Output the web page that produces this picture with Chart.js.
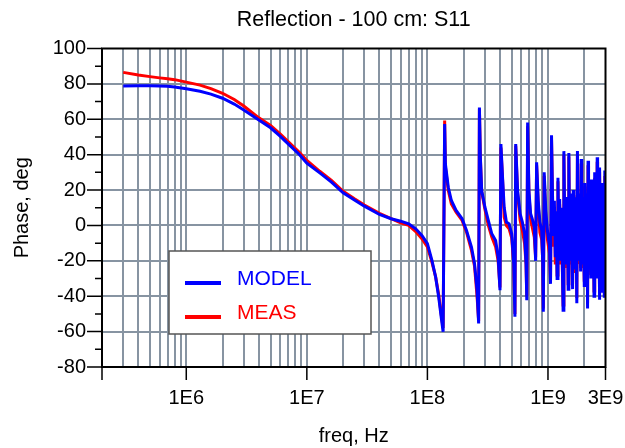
<!DOCTYPE html>
<html>
<head>
<meta charset="utf-8">
<script src="https://cdn.jsdelivr.net/npm/chart.js@4.4.1/dist/chart.umd.min.js"></script>
<style>
  html, body { margin: 0; padding: 0; background: #fff; }
  canvas { display: block; }
</style>
</head>
<body>
<canvas id="chart" width="625" height="448"></canvas>
<script>
// frequency points (Hz) and phase values (deg)
const freq = [
    3e5, 4e5, 5e5, 6e5, 7e5, 8e5, 1e6, 1.3e6, 1.6e6, 2e6, 2.5e6, 3e6, 4e6, 5e6, 6e6, 7e6, 8.7e6, 1e7,
    1.28e7, 1.6e7, 2e7, 2.5e7, 3e7, 4e7, 5e7, 6e7, 7e7, 8e7, 9e7, 1e8, 1.09e8, 1.17e8, 1.24e8, 1.3e8, 1.35e8,
    1.39e8, 1.41e8, 1.49e8, 1.58e8, 1.73e8, 1.94e8, 2.11e8, 2.32e8, 2.46e8, 2.58e8, 2.66e8,
    2.70e8, 2.75e8, 2.82e8, 3.0e8, 3.2e8, 3.42e8, 3.68e8, 3.86e8, 4.0e8,
    4.07e8, 4.2e8, 4.33e8, 4.52e8, 4.76e8, 5.0e8, 5.2e8, 5.32e8,
    5.4e8, 5.6e8, 5.87e8, 6.13e8, 6.4e8, 6.58e8, 6.67e8,
    6.78e8, 6.95e8, 7.18e8, 7.4e8, 7.7e8, 7.9e8,
    8.05e8, 8.3e8, 8.57e8, 8.87e8, 9.05e8, 9.15e8,
    9.3e8, 9.6e8, 9.9e8, 1.03e9, 1.05e9,
    1.07e9, 1.09e9, 1.11e9, 1.13e9, 1.15e9, 1.17e9, 1.19e9,
    1.21e9, 1.23e9, 1.25e9, 1.27e9, 1.29e9, 1.31e9, 1.335e9,
    1.355e9, 1.375e9, 1.395e9, 1.415e9, 1.435e9, 1.45e9, 1.47e9,
    1.49e9, 1.51e9, 1.53e9, 1.55e9, 1.57e9, 1.585e9, 1.6e9,
    1.62e9, 1.64e9, 1.66e9, 1.68e9, 1.7e9, 1.715e9, 1.735e9,
    1.755e9, 1.775e9, 1.795e9, 1.815e9, 1.835e9, 1.85e9, 1.865e9,
    1.885e9, 1.905e9, 1.925e9, 1.945e9, 1.96e9, 1.98e9, 2.0e9,
    2.02e9, 2.04e9, 2.06e9, 2.08e9, 2.095e9, 2.115e9, 2.13e9,
    2.15e9, 2.17e9, 2.19e9, 2.21e9, 2.23e9, 2.25e9, 2.27e9,
    2.29e9, 2.31e9, 2.33e9, 2.35e9, 2.37e9, 2.39e9, 2.41e9,
    2.43e9, 2.45e9, 2.47e9, 2.49e9, 2.51e9, 2.525e9, 2.54e9,
    2.56e9, 2.58e9, 2.6e9, 2.62e9, 2.64e9, 2.655e9, 2.67e9,
    2.69e9, 2.71e9, 2.73e9, 2.75e9, 2.77e9, 2.785e9, 2.8e9,
    2.82e9, 2.84e9, 2.86e9, 2.88e9, 2.9e9, 2.915e9, 2.93e9,
    2.95e9, 2.97e9, 2.99e9, 3.0e9
];
const model = [
    78.8, 79.0, 79.0, 78.8, 78.6, 78.2, 77.2, 75.8, 74.2, 71.9, 68.6, 65.3, 59.6, 55.2, 50.5, 46.1, 40.0, 35.2,
    29.7, 24.5, 18.4, 14.2, 10.9, 6.2, 3.8, 2.4, 0.9, -1.9, -5.6, -10.3, -19.7, -29.1, -40.4, -51.6, -60.1,
    57.3, 34.7, 21.6, 14.1, 8.5, 3.8, -2.8, -12.2, -21.6, -36.6, -55.4,
    66.7, 38.5, 19.7, 10.3, 2.8, -4.7, -8.5, -17.8, -36.6,
    46.0, 27.2, 10.3, 1.9, 0.9, -4.7, -21.6, -51.6,
    46.0, 19.7, 6.6, 1.9, -4.7, -21.6, -42.3,
    58.2, 19.7, 6.6, 3.8, -0.9, -20.0,
    35.7, 14.1, 1.9, -2.8, -21.6, -48.8,
    30.0, 8.0, -3.0, -12.0, -33.0,
    51.0, 18.0, -6.0, 14.0, -18.0, 8.0, -30.0,
    27.0, -10.0, 15.0, -20.0, 10.0, -14.0, -47.9,
    42.0, 4.0, -18.0, 16.0, -22.0, 8.0, -36.0,
    41.0, -4.0, 18.0, -20.0, 12.0, -16.0, -36.0,
    20.0, -12.0, 14.0, -24.0, 16.0, -10.0, -44.0,
    42.0, 0.0, -20.0, 18.0, -16.0, 10.0, -26.0,
    37.6, -8.0, 16.0, -22.0, 12.0, -12.0, -34.0,
    24.0, -14.0, 18.0, -24.0, 10.0, -8.0, -47.0,
    36.6, -6.0, 20.0, -20.0, 14.0, -16.0, -30.0,
    26.0, -12.0, 16.0, -24.0, 12.0, -10.0, -40.0,
    30.0, -4.0, 18.0, -22.0, 10.0, -14.0, -30.0,
    38.6, -10.0, 20.0, -20.0, 12.0, -12.0, -42.0,
    32.7, -8.0, 18.0, -24.0, 14.0, -10.0, -38.0,
    24.0, -14.0, 16.0, -22.0, 10.0, -12.0, -40.0,
    31.0, -6.0, 14.0, -10.0
];
const meas = [
    86.5, 85.0, 84.1, 83.4, 82.9, 82.4, 81.0, 79.3, 77.3, 74.7, 71.2, 67.5, 60.8, 56.5, 51.8, 47.4, 41.2, 36.7,
    30.6, 25.4, 19.3, 14.9, 11.5, 6.8, 3.8, 1.5, 0.0, -3.5, -7.5, -12.2, -20.7, -29.1, -39.0, -50.0, -58.0,
    59.3, 33.0, 19.7, 12.2, 7.5, 2.8, -3.8, -14.1, -23.0, -40.0, -54.0,
    66.0, 38.0, 19.0, 9.0, 0.0, -6.6, -12.2, -20.0, -35.0,
    44.0, 26.0, 4.7, 0.0, -1.9, -7.0, -22.0, -50.0,
    45.0, 18.0, 3.0, -2.8, -10.3, -22.0, -40.0,
    56.0, 18.0, 4.0, -1.0, -6.6, -18.0,
    34.0, 12.0, -4.0, -8.0, -20.0, -47.0,
    28.0, 4.0, -8.0, -16.0, -31.0,
    49.0, 14.0, -12.0, 10.0, -22.0, 4.0, -28.0,
    25.0, -14.0, 12.0, -22.0, 6.0, -18.0, -45.0,
    40.0, 0.0, -22.0, 12.0, -24.0, 4.0, -33.0,
    39.0, -8.0, 14.0, -22.0, 8.0, -20.0, -33.0,
    17.0, -16.0, 10.0, -26.0, 12.0, -14.0, -41.0,
    40.0, -4.0, -22.0, 14.0, -20.0, 6.0, -24.0,
    35.0, -12.0, 12.0, -24.0, 8.0, -16.0, -31.0,
    22.0, -18.0, 14.0, -26.0, 6.0, -12.0, -44.0,
    34.0, -10.0, 16.0, -22.0, 10.0, -20.0, -28.0,
    24.0, -16.0, 12.0, -26.0, 8.0, -14.0, -37.0,
    27.0, -8.0, 14.0, -24.0, 6.0, -18.0, -28.0,
    36.0, -14.0, 16.0, -22.0, 8.0, -16.0, -39.0,
    30.0, -12.0, 14.0, -26.0, 10.0, -14.0, -35.0,
    22.0, -18.0, 12.0, -24.0, 6.0, -16.0, -37.0,
    28.0, -10.0, 10.0, -14.0
];

const xMin = 2e5;
const xMax = 3e9;
const xTickValues = [1e6, 1e7, 1e8, 1e9, 3e9];
const xTickLabels = ['1E6', '1E7', '1E8', '1E9', '3E9'];
const yMin = -80;
const yMax = 100;
const yLabelStep = 20;

const gridColor = '#8794a2';
const fontFamily = '"Liberation Sans", Arial, sans-serif';

// gridline positions: 1..9 x each decade inside the axis range
const xGridValues = [];
for (let d = 5; d <= 9; d++) {
    for (let m = 1; m <= 9; m++) {
        const v = m * Math.pow(10, d);
        if (v >= xMin && v <= xMax * 1.0001) xGridValues.push(v);
    }
}

// frame, tick marks and the inset legend
const framePlugin = {
    id: 'frame',
    afterDatasetsDraw(chart) {
        const { ctx, chartArea: a, scales: { x, y } } = chart;
        ctx.save();
        ctx.strokeStyle = '#000';
        ctx.lineWidth = 1.5;
        ctx.beginPath();
        [xMin].concat(xTickValues).forEach(v => {
            const px = x.getPixelForValue(v);
            ctx.moveTo(px, a.bottom);
            ctx.lineTo(px, a.bottom + 13);
        });
        for (let v = yMin; v <= yMax; v += 10) {
            const py = y.getPixelForValue(v);
            const len = v % yLabelStep === 0 ? 15 : 7;
            ctx.moveTo(a.left - len, py);
            ctx.lineTo(a.left, py);
        }
        ctx.stroke();
        ctx.lineWidth = 2;
        ctx.strokeRect(a.left, a.top, a.right - a.left, a.bottom - a.top);
        ctx.restore();
    },
    afterDraw(chart) {
        const ctx = chart.ctx;
        const box = { x: 169, y: 251, w: 202, h: 83 };
        ctx.save();
        ctx.fillStyle = '#fff';
        ctx.fillRect(box.x, box.y, box.w, box.h);
        ctx.strokeStyle = '#555';
        ctx.lineWidth = 1.5;
        ctx.strokeRect(box.x, box.y, box.w, box.h);
        ctx.font = '21px ' + fontFamily;
        ctx.textBaseline = 'alphabetic';
        chart.data.datasets.forEach((ds, i) => {
            const ly = box.y + 32 + i * 34;
            ctx.strokeStyle = ds.borderColor;
            ctx.lineWidth = 4;
            ctx.beginPath();
            ctx.moveTo(box.x + 16, ly);
            ctx.lineTo(box.x + 52, ly);
            ctx.stroke();
            ctx.fillStyle = ds.borderColor;
            ctx.fillText(ds.label, box.x + 68, ly + 2);
        });
        ctx.restore();
    }
};

const ctx = document.getElementById('chart').getContext('2d');
new Chart(ctx, {
    type: 'line',
    data: {
        datasets: [
            {
                label: 'MODEL',
                data: freq.map((f, i) => ({ x: f, y: model[i] })),
                xAxisID: 'x',
                yAxisID: 'y',
                borderColor: '#0000ff',
                borderWidth: 3,
                pointRadius: 0,
                tension: 0,
                fill: false
            },
            {
                label: 'MEAS',
                data: freq.map((f, i) => ({ x: f, y: meas[i] })),
                xAxisID: 'x',
                yAxisID: 'y',
                borderColor: '#ff0000',
                borderWidth: 3,
                pointRadius: 0,
                tension: 0,
                fill: false
            }
        ]
    },
    options: {
        responsive: false,
        animation: false,
        devicePixelRatio: 1,
        layout: { padding: { left: 0, right: 19.5, top: 0, bottom: 0 } },
        plugins: {
            legend: { display: false },
            tooltip: { enabled: false },
            title: { display: false }
        },
        scales: {
            x: {
                type: 'logarithmic',
                position: 'bottom',
                min: xMin,
                max: xMax,
                afterBuildTicks(scale) {
                    scale.ticks = xGridValues.map(v => ({ value: v }));
                },
                afterFit(scale) {
                    scale.height = 81;
                    scale.paddingLeft = 0;
                    scale.paddingRight = 0;
                },
                ticks: {
                    autoSkip: false,
                    maxRotation: 0,
                    padding: 19,
                    color: '#000',
                    font: { family: fontFamily, size: 20 },
                    callback(value) {
                        const idx = xTickValues.findIndex(v => Math.abs(v - value) / v < 1e-6);
                        return idx >= 0 ? xTickLabels[idx] : '';
                    }
                },
                grid: {
                    drawTicks: false,
                    lineWidth: 2,
                    color(c) {
                        const v = c.tick && c.tick.value;
                        if (v === undefined) return 'rgba(0,0,0,0)';
                        if (Math.abs(v - xMin) / xMin < 1e-6 || Math.abs(v - xMax) / xMax < 1e-6) return 'rgba(0,0,0,0)';
                        return gridColor;
                    }
                },
                border: { display: false },
                title: {
                    display: true,
                    text: 'freq, Hz',
                    color: '#000',
                    font: { family: fontFamily, size: 20 },
                    padding: { top: 0, bottom: 0 }
                }
            },
            // empty top axis, only carries the chart title centred over the plot
            top: {
                type: 'linear',
                axis: 'x',
                position: 'top',
                min: 0,
                max: 1,
                afterFit(scale) {
                    scale.height = 48.5;
                },
                ticks: { display: false },
                grid: { display: false },
                border: { display: false },
                title: {
                    display: true,
                    text: 'Reflection - 100 cm: S11',
                    color: '#000',
                    font: { family: fontFamily, size: 21.5 },
                    padding: { top: 7, bottom: 0 }
                }
            },
            y: {
                min: yMin,
                max: yMax,
                afterFit(scale) {
                    scale.width = 102;
                },
                ticks: {
                    stepSize: 10,
                    autoSkip: false,
                    padding: 16,
                    color: '#000',
                    font: { family: fontFamily, size: 20 },
                    callback(value) {
                        return value % yLabelStep === 0 ? String(value) : '';
                    }
                },
                grid: {
                    drawTicks: false,
                    lineWidth: 2,
                    color(c) {
                        const v = c.tick && c.tick.value;
                        if (v === undefined || v === yMin || v === yMax || v % yLabelStep !== 0) return 'rgba(0,0,0,0)';
                        return gridColor;
                    }
                },
                border: { display: false },
                title: {
                    display: true,
                    text: 'Phase, deg',
                    color: '#000',
                    font: { family: fontFamily, size: 20 },
                    padding: { top: 10, bottom: 0 }
                }
            }
        }
    },
    plugins: [framePlugin]
});
</script>
</body>
</html>
